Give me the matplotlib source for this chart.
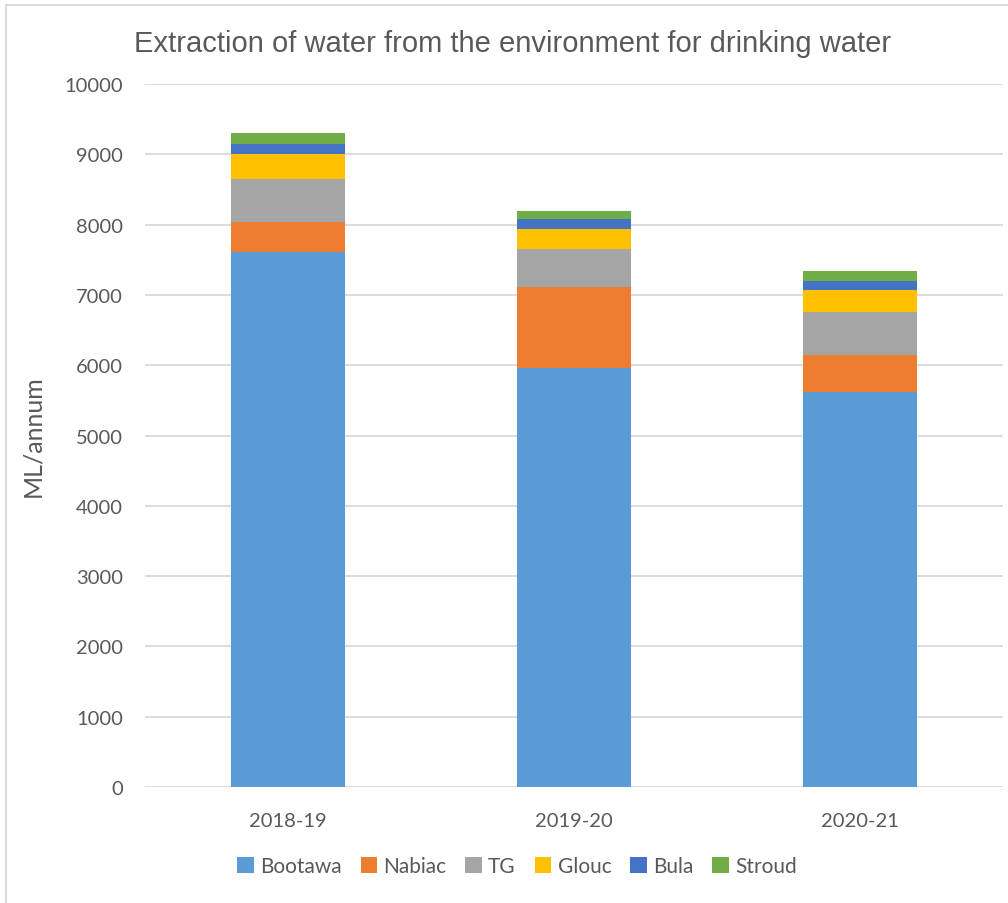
import matplotlib.pyplot as plt
from matplotlib.lines import Line2D

# Annual extraction per source, ML/annum
years = ['2018-19', '2019-20', '2020-21']
bootawa = [7606, 5960, 5615]
nabiac = [435, 1148, 534]
tg = [612, 541, 603]
glouc = [351, 293, 318]
bula = [143, 142, 132]
stroud = [156, 114, 134]

series = [('Bootawa', bootawa, '#5B9BD5'),
          ('Nabiac', nabiac, '#ED7D31'),
          ('TG', tg, '#A5A5A5'),
          ('Glouc', glouc, '#FFC000'),
          ('Bula', bula, '#4472C4'),
          ('Stroud', stroud, '#70AD47')]

text_col = '#595959'
font = ['Lato', 'DejaVu Sans']

fig = plt.figure(figsize=(10.08, 9.04), dpi=100)
ax = fig.add_axes([145 / 1008, 1 - 788 / 904, 858 / 1008, 703 / 904])

x = range(len(years))
bottom = [0] * len(years)
for name, vals, col in series:
    ax.bar(x, vals, width=0.4, bottom=bottom, color=col, label=name, zorder=3)
    bottom = [b + v for b, v in zip(bottom, vals)]

ax.set_xlim(-0.5, 2.5)
ax.set_ylim(0, 10000)
ax.set_yticks(range(0, 10001, 1000))
ax.set_xticks(list(x))
ax.set_xticklabels(years)
ax.grid(axis='y', color='#D9D9D9', linewidth=1.3, zorder=0)
for s in ax.spines.values():
    s.set_visible(False)
ax.tick_params(length=0, labelsize=14.5, colors=text_col)
ax.tick_params(axis='y', pad=16)
ax.tick_params(axis='x', pad=18)
for lab in ax.get_xticklabels() + ax.get_yticklabels():
    lab.set_family(font)

ax.set_ylabel('ML/annum', fontsize=18, color=text_col, family=font, labelpad=14)

fig.text(513 / 1008, 1 - 44 / 904, 'Extraction of water from the environment for drinking water',
         ha='center', va='center', fontsize=21, color=text_col, family=['Liberation Sans'])

leg = fig.legend(loc='center', bbox_to_anchor=(517 / 1008, 1 - 867 / 904), ncol=6,
                 frameon=False, handlelength=0.8, handleheight=0.8, handletextpad=0.3,
                 columnspacing=0.9, prop={'family': font, 'size': 15})
for t in leg.get_texts():
    t.set_color(text_col)

# chart frame edges
fig.add_artist(Line2D([5.5 / 1008, 5.5 / 1008], [0, 1 - 5.5 / 904], color='#D9D9D9', lw=1.3))
fig.add_artist(Line2D([5.5 / 1008, 1], [1 - 5.5 / 904, 1 - 5.5 / 904], color='#D9D9D9', lw=1.3))

fig.savefig('out.png', dpi=100)
